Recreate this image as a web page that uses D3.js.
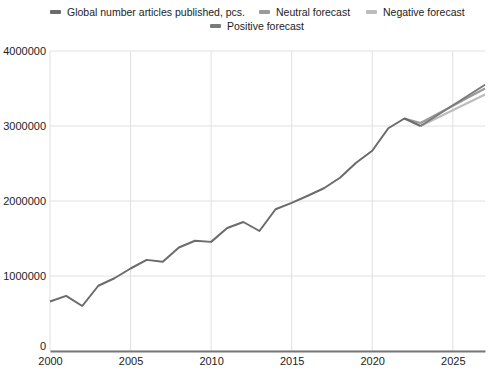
<!DOCTYPE html>
<html>
<head>
<meta charset="utf-8">
<script src="https://cdn.jsdelivr.net/npm/d3@7"></script>
<style>
  body { margin: 0; background: #fff; }
  text { font-family: "Liberation Sans", Arial, sans-serif; }
</style>
</head>
<body>
<div id="wrapper"></div>
<script>
const years = [2000, 2001, 2002, 2003, 2004, 2005, 2006, 2007, 2008, 2009, 2010, 2011,
  2012, 2013, 2014, 2015, 2016, 2017, 2018, 2019, 2020, 2021, 2022, 2023];
const published = [660000, 735000, 600000, 870000, 970000, 1100000, 1215000, 1190000,
  1380000, 1470000, 1455000, 1640000, 1720000, 1600000, 1890000, 1975000, 2070000,
  2170000, 2310000, 2510000, 2670000, 2970000, 3100000, 3000000];

const neutralYears = [2022, 2023, 2027];
const neutral = [3100000, 3040000, 3500000];
const negativeYears = [2023, 2027];
const negative = [3000000, 3420000];
const positiveYears = [2023, 2027];
const positive = [3000000, 3550000];

const xTicks = [2000, 2005, 2010, 2015, 2020, 2025];
const yTicks = [0, 1000000, 2000000, 3000000, 4000000];

const seriesNames = ["Global number articles published, pcs.", "Neutral forecast", "Negative forecast", "Positive forecast"];
const seriesColors = ["#6b6b6b", "#9a9a9a", "#bcbcbc", "#7a7a7a"];

function draw() {
  const dimensions = {
    width: 491,
    height: 373,
    margin: { top: 51, right: 6, bottom: 22, left: 50 }
  };
  const innerW = dimensions.width - dimensions.margin.left - dimensions.margin.right;
  const innerH = dimensions.height - dimensions.margin.top - dimensions.margin.bottom;

  const svg = d3.select("#wrapper")
    .append("svg")
      .attr("width", dimensions.width)
      .attr("height", dimensions.height);

  const bounds = svg.append("g")
    .attr("transform", "translate(" + dimensions.margin.left + "," + dimensions.margin.top + ")");

  const x = d3.scaleLinear().domain([2000, 2027]).range([0, innerW]);
  const y = d3.scaleLinear().domain([0, 4000000]).range([innerH, 0]);

  // grid
  bounds.append("g")
    .selectAll("line")
    .data(yTicks)
    .join("line")
      .attr("x1", 0).attr("x2", innerW)
      .attr("y1", d => y(d)).attr("y2", d => y(d))
      .attr("stroke", "#e0e0e0");
  bounds.append("g")
    .selectAll("line")
    .data(xTicks)
    .join("line")
      .attr("x1", d => x(d)).attr("x2", d => x(d))
      .attr("y1", 0).attr("y2", innerH)
      .attr("stroke", "#e0e0e0");

  // axes
  const yAxis = bounds.append("g")
    .call(d3.axisLeft(y).tickValues(yTicks).tickFormat(d3.format("d")).tickSize(0).tickPadding(4));
  yAxis.select(".domain").remove();
  yAxis.selectAll("text").attr("font-size", 11).attr("fill", "#222")
    .attr("font-family", "Liberation Sans, Arial, sans-serif");
  // the "0" label sits just above the year labels
  yAxis.selectAll("text").filter(d => d === 0).attr("dy", "-0.1em");

  const xAxis = bounds.append("g")
    .attr("transform", "translate(0," + innerH + ")")
    .call(d3.axisBottom(x).tickValues(xTicks).tickFormat(d3.format("d")).tickSize(0).tickPadding(6));
  xAxis.select(".domain").attr("stroke", "#777").attr("stroke-width", 2);
  xAxis.selectAll("text").attr("font-size", 11).attr("fill", "#222")
    .attr("font-family", "Liberation Sans, Arial, sans-serif");

  const line = d3.line().x(d => x(d[0])).y(d => y(d[1]));

  const series = [
    { xs: negativeYears, ys: negative, color: seriesColors[2] },
    { xs: neutralYears, ys: neutral, color: seriesColors[1] },
    { xs: positiveYears, ys: positive, color: seriesColors[3] },
    { xs: years, ys: published, color: seriesColors[0] }
  ];
  series.forEach(s => {
    bounds.append("path")
      .attr("d", line(s.xs.map((d, i) => [d, s.ys[i]])))
      .attr("fill", "none")
      .attr("stroke", s.color)
      .attr("stroke-width", 2)
      .attr("stroke-linejoin", "round");
  });

  // legend
  const legendItems = [
    { name: seriesNames[0], color: seriesColors[0], x: 50, y: 12 },
    { name: seriesNames[1], color: seriesColors[1], x: 259, y: 12 },
    { name: seriesNames[2], color: seriesColors[2], x: 366, y: 12 },
    { name: seriesNames[3], color: seriesColors[3], x: 210, y: 26 }
  ];
  const legend = svg.append("g");
  legendItems.forEach(item => {
    legend.append("rect")
      .attr("x", item.x).attr("y", item.y - 2)
      .attr("width", 11).attr("height", 4)
      .attr("rx", 1)
      .attr("fill", item.color);
    legend.append("text")
      .attr("x", item.x + 17).attr("y", item.y + 4)
      .attr("font-size", 10.5)
      .attr("fill", "#222")
      .text(item.name);
  });
}
draw();
</script>
</body>
</html>
